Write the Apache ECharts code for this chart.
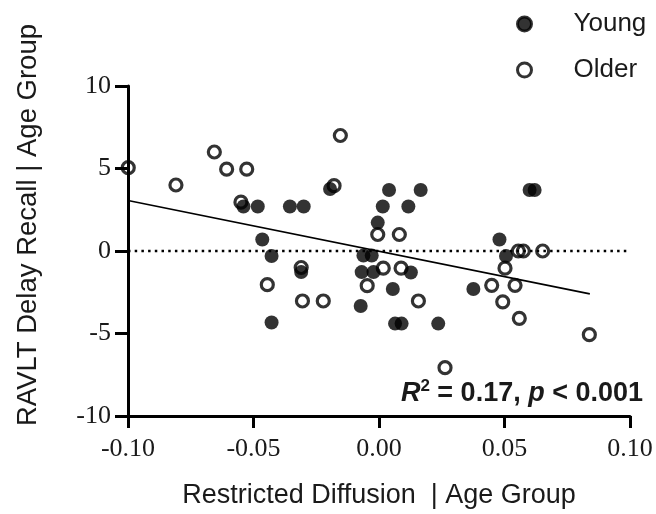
<!DOCTYPE html>
<html>
<head>
<meta charset="utf-8">
<script src="https://cdn.jsdelivr.net/npm/echarts@6/dist/echarts.min.js"></script>
<style>
  html, body { margin: 0; padding: 0; background: #fff; }
  #chart { width: 656px; height: 514px; }
</style>
</head>
<body>
<div id="chart"></div>
<script>
// values
var youngX = [-0.054, -0.0483, -0.0355, -0.030, -0.0465, -0.0428, -0.0428, -0.031, -0.0195, 0.004, 0.0166, 0.0015, 0.0117, -0.0005, -0.0062, -0.0029, -0.0069, -0.0022, 0.0127, 0.0055, -0.0073, 0.0064, 0.009, 0.0236, 0.0376, 0.048, 0.0506, 0.060, 0.062];
var youngY = [2.7, 2.7, 2.7, 2.7, 0.7, -0.3, -4.33, -1.28, 3.76, 3.7, 3.7, 2.7, 2.7, 1.72, -0.28, -0.28, -1.28, -1.28, -1.3, -2.3, -3.33, -4.4, -4.4, -4.4, -2.3, 0.7, -0.3, 3.7, 3.7];

var olderX = [-0.0999, -0.0656, -0.0607, -0.0527, -0.0809, -0.055, -0.0154, -0.0179, -0.0005, 0.0081, -0.031, -0.0445, -0.0305, -0.0222, -0.0047, 0.0017, 0.0088, 0.0157, 0.0263, 0.0555, 0.0575, 0.0652, 0.0502, 0.0449, 0.0542, 0.0493, 0.0559, 0.0838];
var olderY = [5.05, 6.0, 4.96, 4.96, 4.0, 2.96, 7.0, 3.96, 1.0, 1.0, -1.0, -2.04, -3.03, -3.03, -2.1, -1.04, -1.04, -3.03, -7.07, 0, 0, 0, -1.04, -2.08, -2.08, -3.08, -4.08, -5.07];

// fitted line ends
var fitX = [-0.1, 0.084];
var fitY = [3.06, -2.6];

var zeroX = [-0.1, 0.1];

function pairs(xs, ys) {
    return xs.map(function (x, i) { return [x, ys[i]]; });
}

var ink = '#000';
var sans = 'Liberation Sans';
var serif = 'Liberation Serif';

var chart = echarts.init(document.getElementById('chart'));

var option = {
    animation: false,
    grid: { left: 128, right: 26, top: 86, bottom: 93 },
    legend: {
        orient: 'vertical',
        left: 516,
        top: 11,
        padding: 0,
        itemGap: 20,
        itemWidth: 14,
        itemHeight: 14,
        selectedMode: false,
        data: ['Young', 'Older'],
        itemStyle: { borderWidth: 3 },
        textStyle: { fontFamily: sans, fontSize: 26, lineHeight: 26, color: '#1a1a1a', padding: [0, 0, 0, 37] }
    },
    xAxis: {
        type: 'value',
        min: -0.1,
        max: 0.1,
        interval: 0.05,
        name: 'Restricted Diffusion  | Age Group',
        nameLocation: 'middle',
        nameGap: 66,
        nameTextStyle: { fontFamily: sans, fontSize: 27, color: '#1a1a1a' },
        splitLine: { show: false },
        axisLine: { onZero: false, lineStyle: { color: ink, width: 3 } },
        axisTick: { length: 12, lineStyle: { color: ink, width: 3 } },
        axisLabel: {
            margin: 20,
            fontFamily: serif,
            fontSize: 26,
            color: '#1a1a1a',
            formatter: function (v) { return Math.abs(v) < 1e-9 ? '0.00' : v.toFixed(2); }
        }
    },
    yAxis: {
        type: 'value',
        min: -10,
        max: 10,
        interval: 5,
        name: 'RAVLT Delay Recall | Age Group',
        nameLocation: 'middle',
        nameGap: 86,
        nameTextStyle: { fontFamily: sans, fontSize: 27.5, color: '#1a1a1a', padding: [0, 0, 0, 52] },
        splitLine: { show: false },
        axisLine: { onZero: false, lineStyle: { color: ink, width: 3 } },
        axisTick: { length: 13, lineStyle: { color: ink, width: 3 } },
        axisLabel: { margin: 17, fontFamily: serif, fontSize: 26, color: '#1a1a1a' }
    },
    series: [
        {
            name: 'zero',
            type: 'line',
            data: pairs(zeroX, [0, 0]),
            showSymbol: false,
            silent: true,
            lineStyle: { color: ink, width: 2.5, type: [2.5, 4.2] },
            z: 1
        },
        {
            name: 'fit',
            type: 'line',
            data: pairs(fitX, fitY),
            showSymbol: false,
            silent: true,
            lineStyle: { color: ink, width: 1.6 },
            z: 2
        },
        {
            name: 'Older',
            type: 'scatter',
            data: pairs(olderX, olderY),
            symbol: 'circle',
            symbolSize: 12,
            itemStyle: { color: 'transparent', borderColor: ink, borderWidth: 3.2 },
            z: 3
        },
        {
            name: 'Young',
            type: 'scatter',
            data: pairs(youngX, youngY),
            symbol: 'circle',
            symbolSize: 14,
            itemStyle: { color: ink, borderColor: ink, borderWidth: 0 },
            z: 4
        }
    ],
    graphic: [
        {
            type: 'text',
            x: 643,
            y: 394,
            style: {
                text: '{i|R}{sup|2}{b| = 0.17, }{i|p}{b| < 0.001}',
                align: 'right',
                verticalAlign: 'middle',
                fill: '#1a1a1a',
                rich: {
                    i: { fontFamily: sans, fontSize: 27, fontWeight: 'bold', fontStyle: 'italic', lineHeight: 32 },
                    sup: { fontFamily: sans, fontSize: 17, fontWeight: 'bold', verticalAlign: 'top', lineHeight: 32 },
                    b: { fontFamily: sans, fontSize: 27, fontWeight: 'bold', lineHeight: 32 }
                }
            }
        }
    ]
};

chart.setOption(option);
</script>
</body>
</html>
